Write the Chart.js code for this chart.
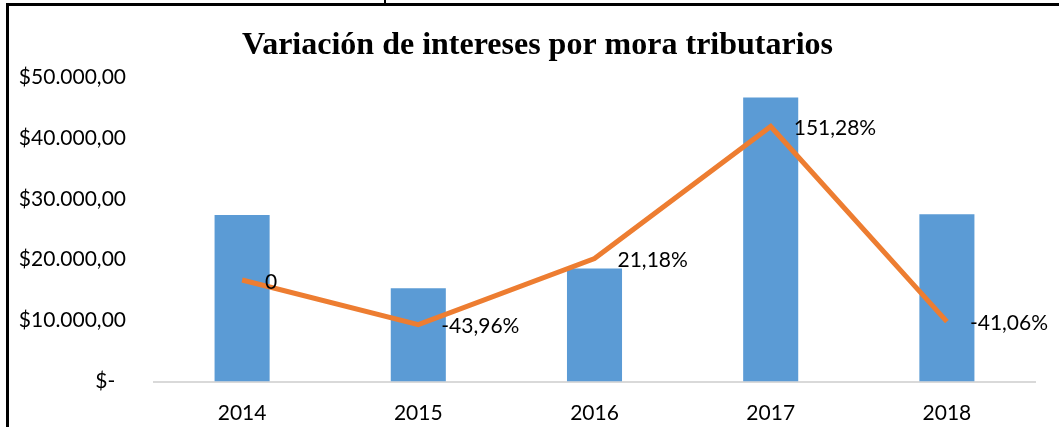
<!DOCTYPE html>
<html>
<head>
<meta charset="utf-8">
<script src="https://cdn.jsdelivr.net/npm/chart.js@4"></script>
<style>
  html, body { margin: 0; padding: 0; background: #fff; }
  #wrap { position: absolute; left: 0; top: 0; width: 1059px; height: 427px; }
  #frame { position: absolute; left: 6px; top: 3px; width: 1053px; height: 424px;
           border-top: 3px solid #000; border-left: 3px solid #000; box-sizing: border-box; pointer-events: none; }
  #nub { position: absolute; left: 384px; top: 0; width: 2px; height: 4px; background: #000; }
</style>
</head>
<body>
<div id="wrap"><canvas id="chart"></canvas></div>
<div id="frame"></div>
<div id="nub"></div>
<script>
  // Years on the category axis
  const years = ["2014", "2015", "2016", "2017", "2018"];
  // Interest amounts (bars, left axis)
  const intereses = [27320, 15310, 18550, 46620, 27480];
  // Year-over-year variation in % (line, hidden right axis)
  const variacion = [0, -43.96, 21.18, 151.28, -41.06];

  const TEXT_FONT = "Lato";

  function pesos(value) {
    if (value === 0) return "$-  ";
    return "$" + String(value).replace(/\B(?=(\d{3})+(?!\d))/g, ".") + ",00";
  }

  function pct(value) {
    if (value === 0) return "0";
    return value.toFixed(2).replace(".", ",") + "%";
  }

  // draws the % next to each line point
  const lineLabels = {
    id: "lineLabels",
    afterDatasetsDraw(chart) {
      const ctx = chart.ctx;
      const meta = chart.getDatasetMeta(0);
      ctx.save();
      ctx.font = "21px " + TEXT_FONT;
      ctx.fillStyle = "#000";
      ctx.textAlign = "left";
      ctx.textBaseline = "middle";
      meta.data.forEach((pt, i) => {
        ctx.fillText(pct(variacion[i]), pt.x + 23, pt.y + 2);
      });
      ctx.restore();
    },
  };

  new Chart(document.getElementById("chart"), {
    data: {
      labels: years,
      datasets: [
        {
          type: "line",
          label: "Variación",
          data: variacion,
          yAxisID: "y1",
          borderColor: "#ED7D31",
          borderWidth: 5,
          pointRadius: 0,
          tension: 0,
          order: 0,
        },
        {
          type: "bar",
          label: "Intereses",
          data: intereses,
          yAxisID: "y",
          backgroundColor: "#5B9BD5",
          categoryPercentage: 1,
          barPercentage: 0.3125,
          order: 1,
        },
      ],
    },
    options: {
      responsive: true,
      maintainAspectRatio: false,
      animation: false,
      layout: { padding: { left: 16, right: 0, top: 0, bottom: 0 } },
      plugins: {
        legend: { display: false },
        tooltip: { enabled: false },
        title: {
          display: true,
          text: "Variación de intereses por mora tributarios",
          color: "#000",
          font: { family: "Liberation Serif", size: 32, weight: "bold" },
          padding: { top: 27, bottom: 11.6 },
        },
      },
      scales: {
        x: {
          grid: { display: false, drawTicks: false },
          border: { display: true, color: "#d9d9d9", width: 2 },
          ticks: { color: "#000", font: { family: TEXT_FONT, size: 21 }, padding: 19 },
          afterFit(scale) { scale.height = 45.5; },
        },
        y: {
          min: 0,
          max: 50000,
          ticks: {
            stepSize: 10000,
            color: "#000",
            font: { family: TEXT_FONT, size: 21 },
            padding: 28,
            callback: (v) => pesos(v),
          },
          grid: { display: false, drawTicks: false },
          border: { display: false },
          afterFit(scale) { scale.width = 138; },
        },
        y1: {
          display: true,
          position: "right",
          min: -100,
          max: 200,
          ticks: { display: false },
          grid: { display: false, drawTicks: false },
          border: { display: false },
          afterFit(scale) { scale.width = 24; },
        },
      },
    },
    plugins: [lineLabels],
  });
</script>
</body>
</html>
